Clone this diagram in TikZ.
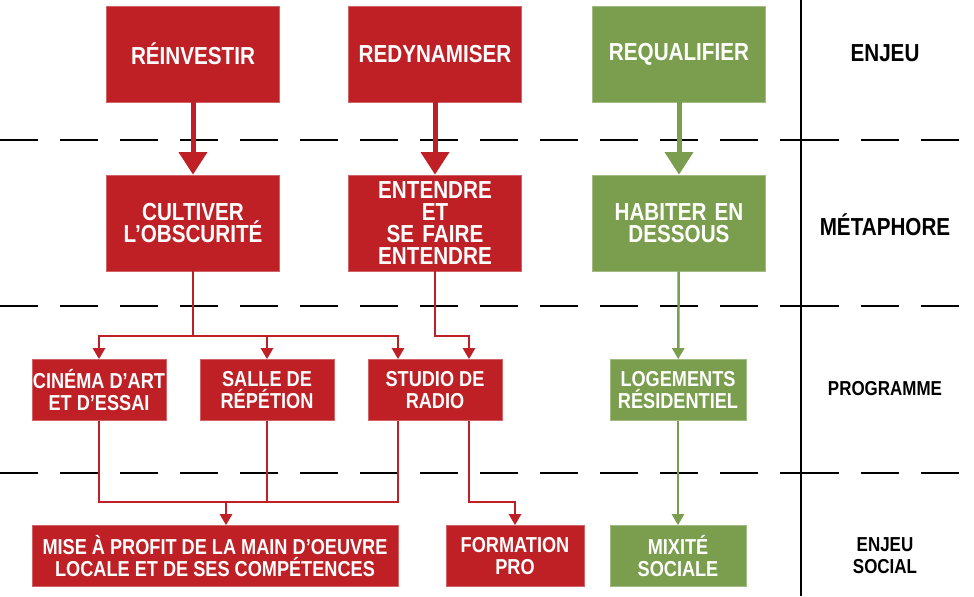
\documentclass[tikz,border=0pt]{standalone}
\usepackage{fontspec}
\setmainfont{Liberation Sans}[FakeStretch=0.84]
\usetikzlibrary{arrows.meta, calc, positioning}
\definecolor{rouge}{HTML}{BE2026}
\definecolor{vert}{HTML}{7A9E4E}
\tikzstyle{big} = [rectangle, fill=rouge, draw=rouge!70!white, text=white, font=\bfseries\fontsize{14}{12.6}\selectfont, minimum width=3.46cm, minimum height=1.92cm, text width=3.4cm, align=center, inner sep=0pt]
\tikzstyle{small} = [rectangle, fill=rouge, draw=rouge!70!white, text=white, font=\bfseries\fontsize{12.3}{12.3}\selectfont, minimum width=2.68cm, minimum height=1.22cm, align=center, inner sep=0pt]
\tikzstyle{green} = [fill=vert, draw=vert!70!white]
\tikzstyle{level} = [font=\bfseries\fontsize{14}{14}\selectfont, align=center]
\tikzstyle{bigarrow} = [line width=1mm, -{Triangle[length=4.5mm, width=5.5mm]}]
\tikzstyle{arrow} = [line width=0.5mm, -{Triangle[length=2.2mm, width=2.4mm]}]
\tikzstyle{sep} = [dashed, dash pattern=on 0.76cm off 0.44cm, line width=0.3mm]
\begin{document}
\begin{tikzpicture}[x=0.02cm, y=-0.02cm]
		\useasboundingbox (0,0) rectangle (974,596);
		\draw [sep] (0,140) -- (801,140) (0,306) -- (801,306) (0,473) -- (801,473);
		\draw [sep] (801,140) -- (974,140) (801,306) -- (974,306) (801,473) -- (974,473);
		\draw [line width=0.3mm] (801,0) -- (801,596);
		\node (Reinvestir) [big] at (193,54) {RÉINVESTIR};
		\node (Redynamiser) [big] at (435,54) {REDYNAMISER};
		\node (Requalifier) [big, green] at (679,54) {REQUALIFIER};
		\node (Cultiver) [big] at (193,223) {CULTIVER\\L’OBSCURITÉ};
		\node (Entendre) [big] at (435,223) {ENTENDRE\\ET\\SE FAIRE\\ENTENDRE};
		\node (Habiter) [big, green] at (679,223) {HABITER EN\\DESSOUS};
		\node (Cinema) [small] at (99,390) {CINÉMA D’ART\\ET D’ESSAI};
		\node (Salle) [small] at (267,390) {SALLE DE\\RÉPÉTION};
		\node (Studio) [small] at (435,390) {STUDIO DE\\RADIO};
		\node (Logements) [small, green, minimum width=2.72cm] at (678,390) {LOGEMENTS\\RÉSIDENTIEL};
		\node (Mise) [small, minimum width=7.32cm] at (215,556) {MISE À PROFIT DE LA MAIN D’OEUVRE\\LOCALE ET DE SES COMPÉTENCES};
		\node (Formation) [small, minimum width=2.76cm] at (515,556) {FORMATION\\PRO};
		\node (Mixite) [small, green, minimum width=2.72cm] at (678,556) {MIXITÉ\\SOCIALE};
		\node (Enjeu) [level] at (885,53) {ENJEU};
		\node (Metaphore) [level] at (885,225) {MÉTAPHORE};
		\node (Programme) [level, font=\bfseries\fontsize{11.5}{12}\selectfont] at (885,389) {PROGRAMME};
		\node (Social) [level, font=\bfseries\fontsize{11.5}{12.5}\selectfont] at (885,556) {ENJEU\\SOCIAL};
		\coordinate (CultiverDown) at (193,336);
		\coordinate (EntendreDown) at (435,336);
		\coordinate (ProgDown) at (226,502);
		\draw [bigarrow, rouge] (Reinvestir) -- (Cultiver);
		\draw [bigarrow, rouge] (Redynamiser) -- (Entendre);
		\draw [bigarrow, vert] (Requalifier) -- (Habiter);
		\draw [rouge, line width=0.5mm] (Cultiver) -- (CultiverDown);
		\draw [arrow, rouge] (CultiverDown) -| (Cinema);
		\draw [arrow, rouge] (CultiverDown) -| (Salle);
		\draw [arrow, rouge] (CultiverDown) -| ([xshift=-37*0.02cm]Studio.north);
		\draw [arrow, rouge] (Entendre) |- (EntendreDown) -| ([xshift=34*0.02cm]Studio.north);
		\draw [rouge, line width=0.5mm] (Cinema) |- ([xshift=-37*0.02cm]Studio.south |- ProgDown) -- ([xshift=-37*0.02cm]Studio.south);
		\draw [rouge, line width=0.5mm] (Salle) -- (Salle |- ProgDown);
		\draw [arrow, rouge] (ProgDown) -- (ProgDown |- Mise.north);
		\draw [arrow, rouge] ([xshift=34*0.02cm]Studio.south) |- (ProgDown -| Formation) -- (Formation);
		\draw [arrow, vert] (Habiter) -- (Logements);
		\draw [arrow, vert] (Logements) -- (Mixite);
	\end{tikzpicture}
\end{document}
